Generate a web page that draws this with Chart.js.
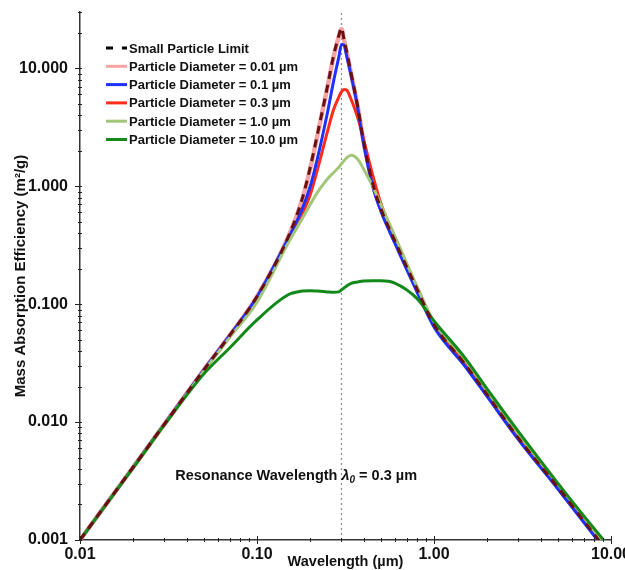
<!DOCTYPE html>
<html>
<head>
<meta charset="utf-8">
<script src="https://cdn.jsdelivr.net/npm/chart.js@4.4.0/dist/chart.umd.min.js"></script>
<style>
  html, body { margin: 0; padding: 0; background: #fff; }
  #wrap { width: 625px; height: 570px; }
</style>
</head>
<body>
<div id="wrap"><canvas id="chart" width="625" height="570"></canvas></div>
<script>
// mass absorption efficiency vs wavelength

// shared wavelength grid (um)
const wavelengths = [0.01, 0.02, 0.03, 0.05, 0.07, 0.1, 0.15, 0.18, 0.2, 0.22, 0.25, 0.27, 0.29, 0.3, 0.31, 0.32, 0.34, 0.37, 0.4, 0.45, 0.5, 0.6, 0.8, 1, 1.5, 2, 3, 5, 7, 10];

// m2/g
const smallParticleLimit = [0.001, 0.00416, 0.0096, 0.0276, 0.054, 0.116, 0.37, 0.78, 1.45, 2.8, 7.0, 12.5, 19.0, 22, 17.6, 14.2, 9.1, 4.8, 2.4, 1.06, 0.65, 0.346, 0.135, 0.067, 0.0308, 0.017, 0.0073, 0.0028, 0.00146, 0.00073];
const diameter001 = [0.001, 0.00416, 0.0096, 0.0276, 0.054, 0.116, 0.37, 0.77, 1.42, 2.75, 6.9, 12.2, 18.6, 21.5, 17.4, 14.0, 9.0, 4.8, 2.4, 1.06, 0.65, 0.346, 0.135, 0.067, 0.0308, 0.017, 0.0073, 0.0028, 0.00146, 0.00073];
const diameter01 = [0.001, 0.00416, 0.0096, 0.0276, 0.054, 0.115, 0.36, 0.64, 1.0, 1.75, 4.2, 7.6, 12.5, 15.9, 15.8, 13.0, 8.7, 4.7, 2.3, 1.0, 0.62, 0.33, 0.128, 0.064, 0.0296, 0.0164, 0.0071, 0.00272, 0.00142, 0.00071];
const diameter03 = [0.001, 0.00416, 0.0096, 0.0276, 0.054, 0.114, 0.35, 0.58, 0.85, 1.4, 2.9, 4.4, 5.7, 6.3, 6.6, 6.55, 5.46, 3.85, 2.5, 1.25, 0.72, 0.37, 0.14, 0.069, 0.0315, 0.0174, 0.0075, 0.00287, 0.0015, 0.00075];
const diameter1 = [0.001, 0.00415, 0.0095, 0.027, 0.052, 0.104, 0.33, 0.53, 0.70, 0.89, 1.15, 1.3, 1.45, 1.55, 1.64, 1.73, 1.83, 1.70, 1.40, 1.0, 0.70, 0.38, 0.142, 0.071, 0.0335, 0.0183, 0.0079, 0.0030, 0.00157, 0.00078];
const diameter10 = [0.001, 0.0041, 0.0095, 0.0255, 0.0425, 0.0735, 0.12, 0.129, 0.13, 0.129, 0.127, 0.126, 0.127, 0.132, 0.137, 0.142, 0.15, 0.154, 0.157, 0.158, 0.158, 0.151, 0.112, 0.072, 0.0349, 0.019, 0.0083, 0.00304, 0.00161, 0.00084];

const seriesLabels = [
  "Small Particle Limit",
  "Particle Diameter = 0.01 \u00b5m",
  "Particle Diameter = 0.1 \u00b5m",
  "Particle Diameter = 0.3 \u00b5m",
  "Particle Diameter = 1.0 \u00b5m",
  "Particle Diameter = 10.0 \u00b5m",
];

const xTicks = [0.01, 0.1, 1, 10];
const yTicks = [0.001, 0.01, 0.1, 1, 10];
const resonanceWavelength = 0.3;

const FONT = "'Liberation Sans', Arial, Helvetica, sans-serif";

const toPoints = (ys) => ys.map((v, i) => ({ x: wavelengths[i], y: v }));

const styles = [
  { color: "#6b1010", width: 3, dash: [8, 6], order: 0, legendColor: "#000" },
  { color: "#f5a3a3", width: 4.5, order: 5 },
  { color: "#1e32ff", width: 3, order: 3 },
  { color: "#ff2b1c", width: 3, order: 4 },
  { color: "#a3c77a", width: 3, order: 2 },
  { color: "#13891a", width: 3, order: 1 },
];
const seriesData = [smallParticleLimit, diameter001, diameter01, diameter03, diameter1, diameter10];

const datasets = seriesData.map((ys, i) => ({
  label: seriesLabels[i],
  data: toPoints(ys),
  borderColor: styles[i].color,
  borderWidth: styles[i].width,
  borderDash: styles[i].dash || [],
  order: styles[i].order,
  pointRadius: 0,
  cubicInterpolationMode: "monotone",
  fill: false,
}));

// dotted marker at the resonance wavelength
datasets.push({
  label: "resonance",
  data: [{ x: resonanceWavelength, y: 0.001 }, { x: resonanceWavelength, y: 30 }],
  borderColor: "#8a8a8a",
  borderWidth: 1.2,
  borderDash: [2, 3],
  order: 6,
  pointRadius: 0,
});

function minorValues(decades, max) {
  const out = [];
  decades.forEach((d) => {
    for (let k = 2; k <= 9; k++) {
      if (d * k <= max * 1.0001) out.push(d * k);
    }
  });
  return out;
}

const decorations = {
  id: "decorations",
  afterDraw(chart) {
    const { ctx, chartArea } = chart;
    const xs = chart.scales.x;
    const ys = chart.scales.y;
    ctx.save();
    ctx.strokeStyle = "#222";
    ctx.lineWidth = 1;

    // x axis tick marks
    const xb = chartArea.bottom;
    xTicks.forEach((v) => {
      const p = Math.round(xs.getPixelForValue(v)) + 0.5;
      ctx.beginPath(); ctx.moveTo(p, xb - 4); ctx.lineTo(p, xb + 4); ctx.stroke();
    });
    minorValues(xTicks, xs.max).forEach((v) => {
      const p = Math.round(xs.getPixelForValue(v)) + 0.5;
      ctx.beginPath(); ctx.moveTo(p, xb - 2); ctx.lineTo(p, xb + 2); ctx.stroke();
    });

    // y axis tick marks
    const yl = chartArea.left;
    yTicks.forEach((v) => {
      const p = Math.round(ys.getPixelForValue(v)) + 0.5;
      ctx.beginPath(); ctx.moveTo(yl - 5, p); ctx.lineTo(yl + 2, p); ctx.stroke();
    });
    minorValues(yTicks, ys.max).forEach((v) => {
      const p = Math.round(ys.getPixelForValue(v)) + 0.5;
      ctx.beginPath(); ctx.moveTo(yl - 2, p); ctx.lineTo(yl + 2, p); ctx.stroke();
    });

    // legend
    const lx = chartArea.left + 26;
    const ly = chartArea.top + 36;
    ctx.font = "bold 13px " + FONT;
    ctx.textBaseline = "middle";
    ctx.textAlign = "left";
    seriesLabels.forEach((label, i) => {
      const yy = ly + i * 18.3;
      const st = styles[i];
      ctx.save();
      ctx.strokeStyle = st.legendColor || st.color;
      ctx.lineWidth = 3;
      ctx.setLineDash(st.dash ? [7, 9] : []);
      ctx.beginPath(); ctx.moveTo(lx, yy); ctx.lineTo(lx + 21, yy); ctx.stroke();
      ctx.restore();
      ctx.fillStyle = "#111";
      ctx.fillText(label, lx + 23, yy + 1);
    });

    // resonance annotation
    const ax = xs.getPixelForValue(resonanceWavelength);
    const ay = ys.getPixelForValue(0.0035);
    ctx.fillStyle = "#111";
    ctx.textAlign = "right";
    ctx.font = "bold 14.5px " + FONT;
    ctx.fillText("Resonance Wavelength ", ax, ay);
    ctx.textAlign = "left";
    ctx.font = "italic bold 14.5px " + FONT;
    ctx.fillText("\u03bb", ax, ay);
    let cx = ax + ctx.measureText("\u03bb").width;
    ctx.font = "italic bold 10px " + FONT;
    ctx.fillText("0", cx, ay + 4);
    cx += ctx.measureText("0").width;
    ctx.font = "bold 14.5px " + FONT;
    ctx.fillText(" = 0.3 \u00b5m", cx, ay);
    ctx.restore();
  },
};

new Chart(document.getElementById("chart"), {
  type: "line",
  data: { datasets },
  options: {
    responsive: false,
    animation: false,
    layout: { padding: { top: 12, right: 14, left: 0, bottom: 0 } },
    plugins: { legend: { display: false }, tooltip: { enabled: false } },
    scales: {
      x: {
        type: "logarithmic",
        min: 0.01,
        max: 10,
        afterBuildTicks: (axis) => { axis.ticks = xTicks.map((v) => ({ value: v })); },
        afterFit: (axis) => { axis.height = 30; axis.paddingLeft = 0; axis.paddingRight = 0; },
        ticks: {
          autoSkip: false,
          maxRotation: 0,
          padding: 5,
          color: "#111",
          font: { family: FONT, size: 16, weight: "bold" },
          callback: (v) => Number(v).toFixed(2),
        },
        grid: { display: true, drawOnChartArea: false, drawTicks: false },
        border: { display: true, color: "#333", width: 1.5 },
        title: {
          display: true,
          text: "Wavelength (\u00b5m)",
          color: "#111",
          font: { family: FONT, size: 14.5, weight: "bold" },
          padding: { top: 0, bottom: -1 },
        },
      },
      y: {
        type: "logarithmic",
        min: 0.001,
        max: 30,
        afterBuildTicks: (axis) => { axis.ticks = yTicks.map((v) => ({ value: v })); },
        afterFit: (axis) => { axis.width = 80; axis.paddingTop = 0; axis.paddingBottom = 0; },
        ticks: {
          autoSkip: false,
          padding: 12,
          color: "#111",
          font: { family: FONT, size: 16, weight: "bold" },
          callback: (v) => Number(v).toFixed(3),
        },
        grid: { display: true, drawOnChartArea: false, drawTicks: false },
        border: { display: true, color: "#333", width: 1.5 },
        title: {
          display: true,
          text: "Mass Absorption Efficiency (m\u00b2/g)",
          color: "#111",
          font: { family: FONT, size: 15, weight: "bold" },
          padding: { top: 12, bottom: 0 },
        },
      },
    },
  },
  plugins: [decorations],
});
</script>
</body>
</html>
